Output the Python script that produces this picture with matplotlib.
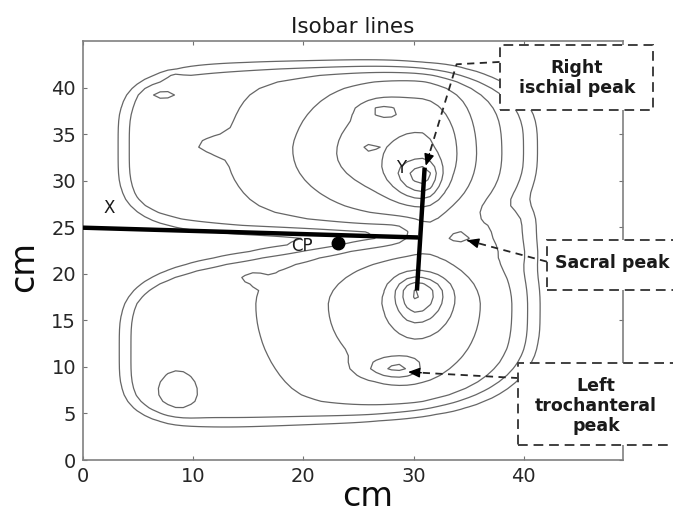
import numpy as np
import matplotlib
matplotlib.use("Agg")
import matplotlib.pyplot as plt
from matplotlib.patches import Rectangle

# ---------------- data ----------------
# seat-pressure lobes (upper buttock, lower buttock, sacral bridge)
lobe_x_left = [3.5, 3.6, 29.5]
lobe_x_right = [40.8, 40.9, 40.6]
lobe_x_mid = [22.0, 22.0, 35.0]
lobe_top = [42.4, 23.0, 27.5]
lobe_top_slope = [0.0, 0.14, 0.0]
lobe_bottom = [24.6, 4.3, 20.5]
lobe_bottom_slope = [0.0, 0.065, 0.0]
lobe_p_left = [4.0, 4.0, 2.5]
lobe_p_right = [3.0, 3.0, 4.0]
base_pressure = 2.6

# pressure hills: centre, height, spreads (left, right, down, up)
hill_x = [30.5, 30.9, 30.3, 30.2, 28.5, 34.4, 8.5, 7.0, 8.2, 27.1, 25.8, 15.4, 13.0]
hill_y = [33.0, 30.5, 16.5, 18.0, 9.9, 24.0, 7.1, 39.4, 41.1, 37.6, 33.5, 19.6, 33.8]
hill_amp = [3.6, 2.8, 2.4, 3.2, 2.1, 1.0, 0.8, 0.72, 1.1, 1.1, 0.55, 0.55, 0.35]
hill_sxl = [8.3, 1.8, 7.7, 1.3, 2.0, 0.8, 1.5, 1.2, 0.6, 1.4, 0.6, 0.7, 2.5]
hill_sxr = [3.8, 1.0, 5.5, 1.8, 1.5, 0.8, 1.5, 1.2, 0.6, 1.4, 0.6, 0.7, 2.5]
hill_syd = [5.0, 1.8, 7.5, 2.2, 0.8, 0.45, 2.0, 0.55, 0.3, 0.7, 0.4, 0.4, 0.7]
hill_syu = [6.5, 1.2, 4.5, 1.3, 0.8, 0.45, 2.0, 0.55, 0.3, 0.7, 0.4, 0.4, 0.7]

iso_levels = [1, 2, 3, 4, 5, 6, 7, 8, 9]

# reference lines and labels
x_line_x = [0.0, 30.4]
x_line_y = [24.95, 23.9]
y_line_x = [30.3, 31.0]
y_line_y = [18.2, 31.4]
cp_point = (23.1, 23.3)
xticks = [0, 10, 20, 30, 40]
yticks = [0, 5, 10, 15, 20, 25, 30, 35, 40]

# ---------------- field ----------------
xg = np.linspace(0, 49, 491)
yg = np.linspace(0, 45, 451)
X, Y = np.meshgrid(xg, yg)
h = xg[1] - xg[0]

E_out = np.ones_like(X)
for i in range(len(lobe_x_left)):
    xm = lobe_x_mid[i]
    yt = lobe_top[i] + lobe_top_slope[i] * (X - xm)
    yb = lobe_bottom[i] + lobe_bottom_slope[i] * (X - xm)
    cy = (yt + yb) / 2
    ay = (yt - yb) / 2
    left = X < xm
    ax_ = np.where(left, xm - lobe_x_left[i], lobe_x_right[i] - xm)
    p = np.where(left, lobe_p_left[i], lobe_p_right[i])
    r = (np.abs((X - xm) / ax_) ** p + np.abs((Y - cy) / ay) ** p) ** (1 / p)
    gy, gx = np.gradient(r, h, h)
    d = (r - 1) / np.maximum(np.hypot(gx, gy), 1e-6)
    soft = np.where(X > 30, 0.6 + 0.25 * np.clip((X - 30) / 8, 0, 1), 0.6)
    E = 1 / (1 + np.exp(np.clip(d / soft, -50, 50)))
    E_out *= (1 - E)
E_union = 1 - E_out

H = np.zeros_like(X)
for i in range(len(hill_x)):
    dx = X - hill_x[i]
    dy = Y - hill_y[i]
    sx = np.where(dx < 0, hill_sxl[i], hill_sxr[i])
    sy = np.where(dy < 0, hill_syd[i], hill_syu[i])
    H += hill_amp[i] * np.exp(-0.5 * ((dx / sx) ** 2 + (dy / sy) ** 2))

F = E_union * (base_pressure + H)

# ---------------- figure ----------------
W, Hpx = 673, 515
fig = plt.figure(figsize=(W / 100, Hpx / 100), dpi=100)
ax = fig.add_axes([83 / W, 1 - 460 / Hpx, 540 / W, 419 / Hpx])
ax.set_xlim(0, 49.0)
ax.set_ylim(0, 45.0)

st = 7  # sensor-like sampling of the map
ax.contour(X[::st, ::st], Y[::st, ::st], F[::st, ::st], levels=iso_levels,
           colors='0.4', linewidths=0.9)

ax.plot(x_line_x, x_line_y, color='black', lw=3.2, solid_capstyle='butt', zorder=5)
ax.plot(y_line_x, y_line_y, color='black', lw=3.2, solid_capstyle='butt', zorder=5)
ax.plot([cp_point[0]], [cp_point[1]], 'o', color='black', ms=9, zorder=6)

ax.text(2.4, 27.1, 'X', fontsize=12, ha='center', va='center', color='0.1')
ax.text(28.9, 31.4, 'Y', fontsize=12, ha='center', va='center', color='0.1')
ax.text(19.9, 23.0, 'CP', fontsize=12, ha='center', va='center', color='0.1')

ax.set_xticks(xticks)
ax.set_yticks(yticks)
ax.tick_params(direction='in', length=3, top=True, right=True, labelsize=14,
               colors='0.45', labelcolor='0.15', pad=5)
for s in ax.spines.values():
    s.set_color('0.5')
    s.set_linewidth(1.2)
ax.set_title('Isobar lines', fontsize=15.5, color='0.1', pad=6)

fig.text(368 / W, 1 - 497 / Hpx, 'cm', fontsize=24, ha='center', va='center', color='0.05')
fig.text(24 / W, 1 - 266 / Hpx, 'cm', fontsize=24, ha='center', va='center',
         rotation=90, color='0.05')

# dashed annotation arrows (data coords)
dash = (0, (4, 3))
def dashed_arrow(pts):
    xs = [p[0] for p in pts]
    ys = [p[1] for p in pts]
    ax.plot(xs, ys, color='0.15', lw=1.3, linestyle=dash, clip_on=False, zorder=7)
    x1, y1 = pts[-2]
    x2, y2 = pts[-1]
    ax.annotate('', xy=(x2, y2), xytext=(x2 + (x1 - x2) * 0.12, y2 + (y1 - y2) * 0.12),
                arrowprops=dict(arrowstyle='-|>,head_length=0.7,head_width=0.3',
                                color='black', lw=1.0, shrinkA=0, shrinkB=0),
                annotation_clip=False, zorder=8)

dashed_arrow([(37.8, 42.75), (33.9, 42.5), (31.1, 31.6)])
dashed_arrow([(42.1, 21.3), (34.85, 23.6)])
dashed_arrow([(39.5, 8.8), (29.5, 9.45)])

# label boxes (figure pixels)
def box(x0, y0, x1, y1):
    fig.patches.append(Rectangle((x0 / W, 1 - y1 / Hpx), (x1 - x0) / W, (y1 - y0) / Hpx,
                                 transform=fig.transFigure, facecolor='white',
                                 edgecolor='0.25', lw=1.4, linestyle=(0, (5, 3)),
                                 zorder=10))

box(500, 45, 653, 110)
box(547, 240, 690, 290)
box(518, 363, 690, 445)

tk = dict(fontsize=12.5, fontweight='bold', color='0.1', zorder=11)
fig.text(577 / W, 1 - 78 / Hpx, 'Right\nischial peak', ha='center', va='center',
         linespacing=1.15, **tk)
fig.text(555 / W, 1 - 263 / Hpx, 'Sacral peak', ha='left', va='center', **tk)
fig.text(596 / W, 1 - 406 / Hpx, 'Left\ntrochanteral\npeak', ha='center', va='center',
         linespacing=1.15, **tk)

fig.savefig('out.png', dpi=100)
